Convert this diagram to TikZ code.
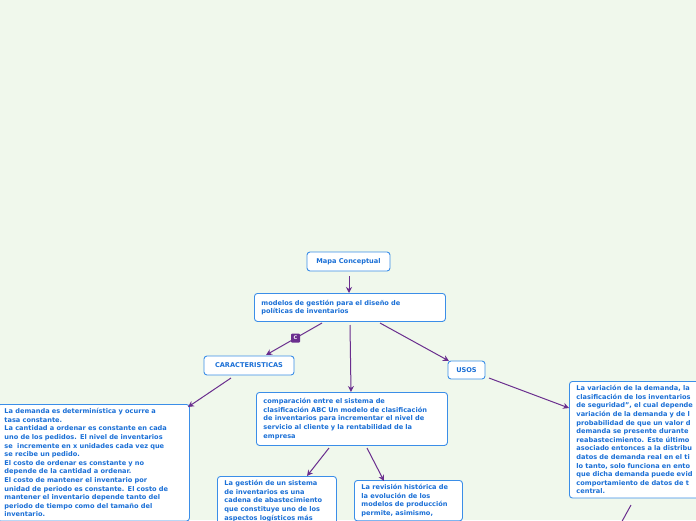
\documentclass[tikz,border=0pt]{standalone}
\usepackage{fontspec}
\setmainfont{DejaVu Sans}
\usetikzlibrary{arrows.meta}
\definecolor{bg}{HTML}{F0F8EC}
\definecolor{tx}{HTML}{1A6FD6}
\definecolor{bd}{HTML}{3B8EE8}
\definecolor{ar}{HTML}{6A2E8E}
\begin{document}
\begin{tikzpicture}[x=1pt,y=-1pt,
  box/.style={draw=bd,line width=0.9pt,fill=white,rounded corners=3pt,anchor=north west,
    font=\fontsize{6.6}{8.6}\selectfont\bfseries,text=tx,align=left,inner xsep=7pt,inner ysep=4pt},
  conn/.style={draw=ar,line width=1pt,-{Stealth[length=6pt,width=6pt]}}]
\useasboundingbox (0,0) rectangle (696,520);
\clip (0,0) rectangle (696,520);
\fill[bg] (0,0) rectangle (696,520);
\node[box,minimum width=83pt,minimum height=19pt,align=center,anchor=center] (mapa) at (348.5,261.5) {Mapa Conceptual};
\node[box,text width=177pt,minimum height=28pt] (mod) at (254,293) {modelos de gestión para el diseño de\\políticas de inventarios};
\node[box,minimum width=90pt,minimum height=19pt,align=center,anchor=center,inner xsep=2pt] (car) at (249,365.5) {CARACTERISTICAS};
\node[box,minimum width=37pt,minimum height=18pt,align=center,anchor=center,inner xsep=2pt] (usos) at (466.5,370) {USOS};
\node[box,text width=177pt,minimum height=53pt] (comp) at (256,392) {comparación entre el sistema de\\clasificación ABC Un modelo de clasificación\\de inventarios para incrementar el nivel de\\servicio al cliente y la rentabilidad de la\\empresa};
\node[box,text width=178pt,inner xsep=7pt] (left) at (-3,404) {La demanda es determinística y ocurre a\\tasa constante.\\La cantidad a ordenar es constante en cada\\uno de los pedidos. El nivel de inventarios\\se~ incremente en x unidades cada vez que\\se recibe un pedido.\\El costo de ordenar es constante y no\\depende de la cantidad a ordenar.\\El costo de mantener el inventario por\\unidad de periodo es constante. El costo de\\mantener el inventario depende tanto del\\periodo de tiempo como del tamaño del\\inventario.};
\node[box,text width=140pt] (right) at (569,381) {La variación de la demanda, la\\clasificación de los inventarios\\de seguridad", el cual depende\\variación de la demanda y de l\\probabilidad de que un valor d\\demanda se presente durante\\reabastecimiento. Este último\\asociado entonces a la distribu\\datos de demanda real en el ti\\lo tanto, solo funciona en ento\\que dicha demanda puede evid\\comportamiento de datos de t\\central.};
\node[box,text width=105pt] (ges) at (217,476) {La gestión de un sistema\\de inventarios es una\\cadena de abastecimiento\\que constituye uno de los\\aspectos logísticos más};
\node[box,text width=94pt] (rev) at (354,480) {La revisión histórica de\\la evolución de los\\modelos de producción\\permite, asimismo,};
\coordinate (m1) at (349,276); \coordinate (m2) at (349,293);
\draw[conn] (m1) -- (m2);
\coordinate (a1) at (322,323); \coordinate (a2) at (266,355);
\draw[conn] (a1) -- (a2);
\node[fill=ar,text=white,font=\fontsize{5}{5}\selectfont\bfseries,minimum size=9pt,inner sep=0pt,rounded corners=1pt] (clab) at (295.5,338) {C};
\coordinate (b1) at (350,325); \coordinate (b2) at (351,392);
\draw[conn] (b1) -- (b2);
\coordinate (c1) at (380,323); \coordinate (c2) at (449,361);
\draw[conn] (c1) -- (c2);
\coordinate (d1) at (231,378); \coordinate (d2) at (188,407);
\draw[conn] (d1) -- (d2);
\coordinate (e1) at (489,378); \coordinate (e2) at (569,408);
\draw[conn] (e1) -- (e2);
\coordinate (f1) at (329,448); \coordinate (f2) at (307,476);
\draw[conn] (f1) -- (f2);
\coordinate (g1) at (367,448); \coordinate (g2) at (384,481);
\draw[conn] (g1) -- (g2);
\coordinate (h1) at (631,505); \coordinate (h2) at (620,525);
\draw[draw=ar,line width=1pt] (h1) -- (h2);
\end{tikzpicture}
\end{document}
